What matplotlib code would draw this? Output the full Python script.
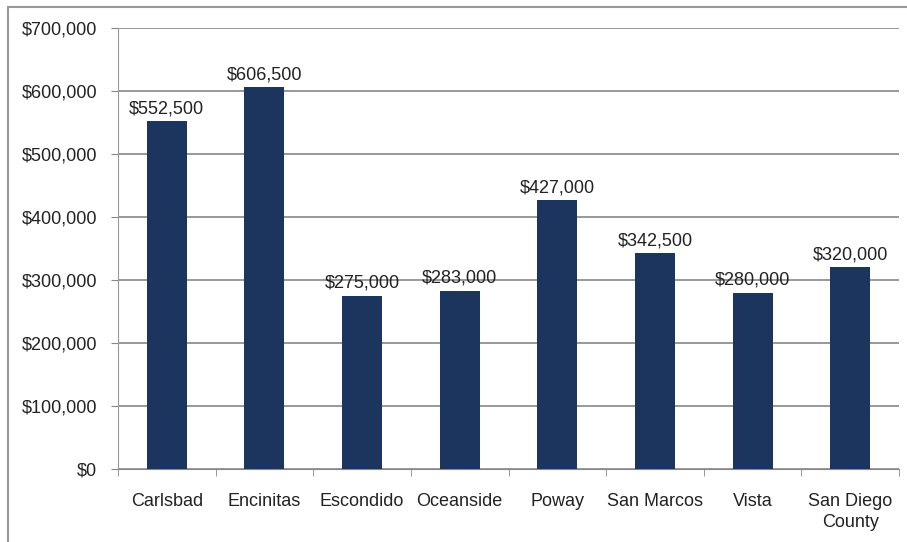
import matplotlib.pyplot as plt
from matplotlib.patches import Rectangle
from matplotlib.ticker import FuncFormatter

plt.rcParams['font.family'] = ['Liberation Sans Narrow', 'Liberation Sans', 'DejaVu Sans']

cities = ["Carlsbad", "Encinitas", "Escondido", "Oceanside", "Poway",
          "San Marcos", "Vista", "San Diego\nCounty"]
prices = [552500, 606500, 275000, 283000, 427000, 342500, 280000, 320000]

fig = plt.figure(figsize=(9.07, 5.42), dpi=100)
ax = fig.add_axes([118/907, 1 - 469/542, (899 - 118)/907, (469 - 28)/542])

x = range(len(cities))
ax.bar(x, prices, width=0.41, color="#1c355e", zorder=3)

for i, p in enumerate(prices):
    ax.text(i, p + 6000, "${:,}".format(p), ha="center", va="bottom",
            fontsize=13, color="#222222")

ax.set_xlim(-0.5, len(cities) - 0.5)
ax.set_ylim(0, 700000)
ax.set_yticks(range(0, 700001, 100000))
ax.yaxis.set_major_formatter(FuncFormatter(lambda v, _: "${:,.0f}".format(v)))
ax.set_xticks(list(x))
ax.set_xticklabels(cities, linespacing=1.35)
ax.set_xticks([i + 0.5 for i in range(-1, len(cities))], minor=True)
ax.tick_params(axis="x", which="major", length=0, pad=17, labelsize=13, colors="#222222")
ax.tick_params(axis="x", which="minor", length=5, color="#888888", direction="out")
ax.tick_params(axis="y", length=5, color="#888888", pad=10, labelsize=13, colors="#222222")
ax.grid(axis="y", color="#888888", linewidth=1.2, zorder=0)

for s in ["top", "right"]:
    ax.spines[s].set_visible(False)
ax.spines["left"].set_color("#999999")
ax.spines["bottom"].set_color("#888888")

fig.patches.append(Rectangle((8/907, -0.1), 1.2, 1 - 7/542 + 0.1,
                             transform=fig.transFigure, fill=False,
                             edgecolor="#999999", linewidth=1.5))

fig.savefig("out.png", dpi=100)
